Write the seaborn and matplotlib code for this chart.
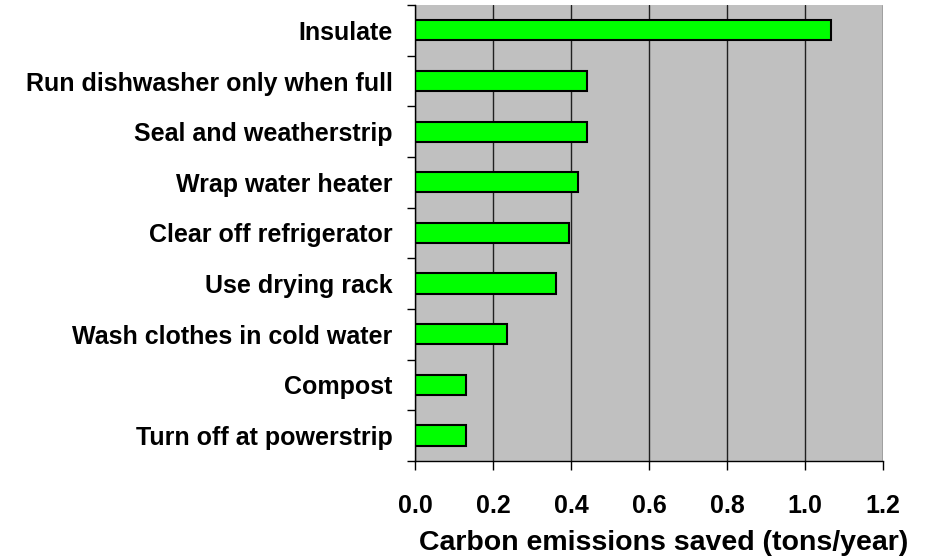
import matplotlib
matplotlib.use('Agg')
import matplotlib.pyplot as plt
import seaborn as sns
import pandas as pd
import numpy as np

actions = ['Insulate', 'Run dishwasher only when full', 'Seal and weatherstrip',
           'Wrap water heater', 'Clear off refrigerator', 'Use drying rack',
           'Wash clothes in cold water', 'Compost', 'Turn off at powerstrip']
savings = [1.067, 0.441, 0.440, 0.418, 0.395, 0.362, 0.236, 0.131, 0.131]
xticks = [0.0, 0.2, 0.4, 0.6, 0.8, 1.0, 1.2]

df = pd.DataFrame({'action': actions, 'saved': savings})

sns.set_style('white', {'xtick.bottom': True, 'ytick.left': True})
plt.rcParams['font.family'] = ['Liberation Sans', 'DejaVu Sans']
plt.rcParams['font.weight'] = 'bold'
plt.rcParams['text.color'] = 'black'
plt.rcParams['xtick.color'] = 'black'
plt.rcParams['ytick.color'] = 'black'
plt.rcParams['axes.labelcolor'] = 'black'

fig = plt.figure(figsize=(9.38, 5.58), dpi=100)
ax = fig.add_axes([0.4424, 0.174, 0.499, 0.817])
ax.set_facecolor('#C0C0C0')

sns.barplot(data=df, x='saved', y='action', orient='h', color='#00FF00',
            edgecolor='black', linewidth=1.5, width=0.4, saturation=1, ax=ax)

ax.set_xlim(0, 1.2)
ax.set_ylim(len(actions) - 0.5, -0.5)
ax.set_xticks(xticks)
ax.set_xticklabels([f'{v:.1f}' for v in xticks], fontsize=18, fontweight='bold')
ax.xaxis.grid(True, color='#202020', linewidth=1)
ax.set_axisbelow(True)

# y ticks: labels at bar centres, tick marks at category boundaries
ax.set_yticks(range(len(actions)))
ax.set_yticklabels(actions, fontsize=18, fontweight='bold')
ax.set_yticks(np.arange(-0.5, len(actions), 1), minor=True)
ax.tick_params(axis='y', which='major', length=6, width=0, pad=10)
ax.tick_params(axis='y', which='minor', length=6, width=1, color='black', direction='out', left=True)
ax.tick_params(axis='x', which='major', length=6.5, width=1, color='black', direction='out', pad=17)

for side in ['top', 'right']:
    ax.spines[side].set_visible(False)
for side in ['left', 'bottom']:
    ax.spines[side].set_color('black')
    ax.spines[side].set_linewidth(1)

ax.set_ylabel('')
ax.set_xlabel('Carbon emissions saved (tons/year)', fontsize=20.5, fontweight='bold')
ax.xaxis.set_label_coords(0.532, -0.152)

fig.savefig('out.png', dpi=100, facecolor='white')
